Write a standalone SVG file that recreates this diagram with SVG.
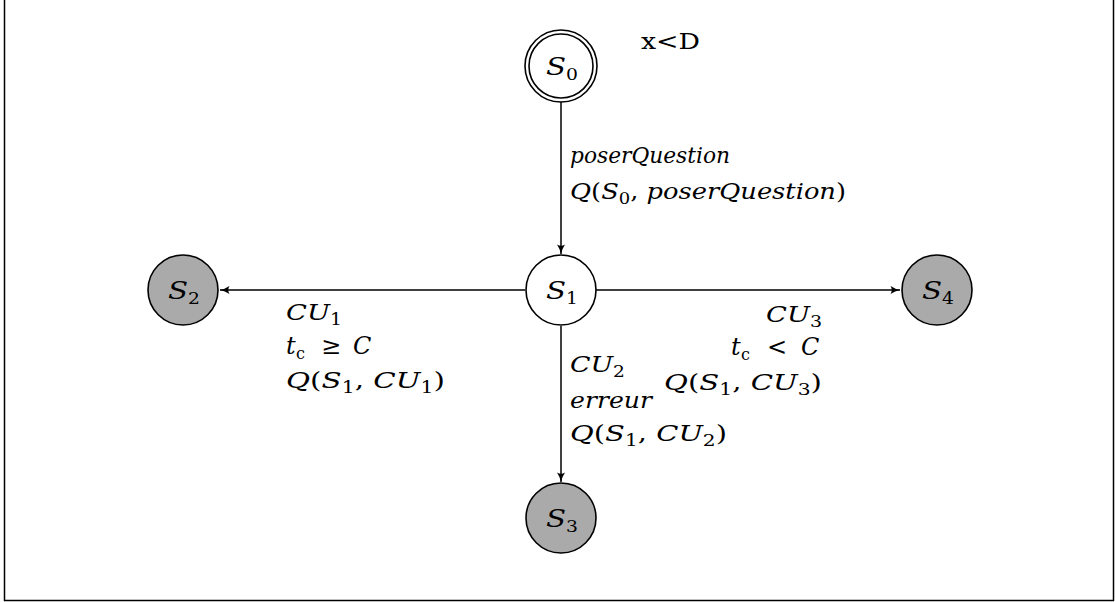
<svg xmlns="http://www.w3.org/2000/svg" width="1115" height="602" viewBox="0 0 1115 602">
<style>
.frame{fill:none;stroke:#000;stroke-width:1.5}
.st{stroke:#000;stroke-width:1.6}
.w{fill:#fff}
.g{fill:#aaaaaa}
.edge{stroke:#000;stroke-width:1.5;fill:none;marker-end:url(#arr)}
text{font-family:"DejaVu Serif","Liberation Serif",serif;font-size:23px;fill:#000}
.m{font-style:italic}
.n{font-style:normal}
.sub{font-style:normal;font-size:16px}
.lbl{font-size:25px}
</style>
<defs>
<marker id="arr" markerWidth="12" markerHeight="10" refX="10" refY="5" orient="auto" markerUnits="userSpaceOnUse">
<path d="M0.5,1 Q5,4 10,5 Q5,6 0.5,9 Q3,5 0.5,1 Z" fill="#000"/>
</marker>
</defs>
<rect class="frame" x="4.5" y="-5" width="1109" height="605.5"/>
<g id="connectors">
<line class="edge" x1="561" y1="102" x2="561" y2="254"/>
<line class="edge" x1="525" y1="290" x2="220" y2="290"/>
<line class="edge" x1="596" y1="290" x2="900" y2="290"/>
<line class="edge" x1="561" y1="326" x2="561" y2="482"/>
</g>
<g id="S0">
<circle class="st w" cx="561" cy="66" r="36"/>
<circle class="st w" cx="561" cy="66" r="32"/>
<text x="546" y="75" class="m lbl" textLength="32" lengthAdjust="spacingAndGlyphs">S<tspan class="sub" dy="5">0</tspan></text>
</g>
<g id="S1">
<circle class="st w" cx="561" cy="290" r="35"/>
<text x="546" y="299" class="m lbl" textLength="32" lengthAdjust="spacingAndGlyphs">S<tspan class="sub" dy="5">1</tspan></text>
</g>
<g id="S2">
<circle class="st g" cx="183" cy="290" r="35"/>
<text x="168" y="299" class="m lbl" textLength="32" lengthAdjust="spacingAndGlyphs">S<tspan class="sub" dy="5">2</tspan></text>
</g>
<g id="S3">
<circle class="st g" cx="561" cy="518" r="35"/>
<text x="546" y="527" class="m lbl" textLength="32" lengthAdjust="spacingAndGlyphs">S<tspan class="sub" dy="5">3</tspan></text>
</g>
<g id="S4">
<circle class="st g" cx="937" cy="290" r="35"/>
<text x="922" y="299" class="m lbl" textLength="32" lengthAdjust="spacingAndGlyphs">S<tspan class="sub" dy="5">4</tspan></text>
</g>
<g id="labels">
<text x="641" y="49" class="n" textLength="59" lengthAdjust="spacingAndGlyphs">x&lt;D</text>
<text x="570" y="163" class="m" textLength="160" lengthAdjust="spacingAndGlyphs">poserQuestion</text>
<text x="570" y="199" class="m" textLength="276" lengthAdjust="spacingAndGlyphs"><tspan>Q</tspan><tspan class="n">(</tspan>S<tspan class="sub" dy="5">0</tspan><tspan class="n" dy="-5">, </tspan>poserQuestion<tspan class="n">)</tspan></text>

<text x="286" y="320" class="m" textLength="56" lengthAdjust="spacingAndGlyphs">CU<tspan class="sub" dy="5">1</tspan></text>
<text x="286" y="354" class="m" style="font-size:24px">t<tspan class="sub m" x="296" dy="5">c</tspan><tspan class="n" x="321" dy="-5">≥</tspan><tspan x="353">C</tspan></text>
<text x="286" y="388" class="m" textLength="159" lengthAdjust="spacingAndGlyphs">Q<tspan class="n">(</tspan>S<tspan class="sub" dy="5">1</tspan><tspan class="n" dy="-5">, </tspan>CU<tspan class="sub" dy="5">1</tspan><tspan class="n" dy="-5">)</tspan></text>

<text x="766" y="322" class="m" textLength="56" lengthAdjust="spacingAndGlyphs">CU<tspan class="sub" dy="5">3</tspan></text>
<text x="731" y="355" class="m" style="font-size:24px">t<tspan class="sub m" x="741" dy="5">c</tspan><tspan class="n" x="767" dy="-5">&lt;</tspan><tspan x="801">C</tspan></text>
<text x="664" y="390" class="m" textLength="158" lengthAdjust="spacingAndGlyphs">Q<tspan class="n">(</tspan>S<tspan class="sub" dy="5">1</tspan><tspan class="n" dy="-5">, </tspan>CU<tspan class="sub" dy="5">3</tspan><tspan class="n" dy="-5">)</tspan></text>

<text x="570" y="372" class="m" textLength="55" lengthAdjust="spacingAndGlyphs">CU<tspan class="sub" dy="5">2</tspan></text>
<text x="570" y="408" class="m" textLength="82" lengthAdjust="spacingAndGlyphs">erreur</text>
<text x="570" y="441" class="m" textLength="157" lengthAdjust="spacingAndGlyphs">Q<tspan class="n">(</tspan>S<tspan class="sub" dy="5">1</tspan><tspan class="n" dy="-5">, </tspan>CU<tspan class="sub" dy="5">2</tspan><tspan class="n" dy="-5">)</tspan></text>
</g>
</svg>
